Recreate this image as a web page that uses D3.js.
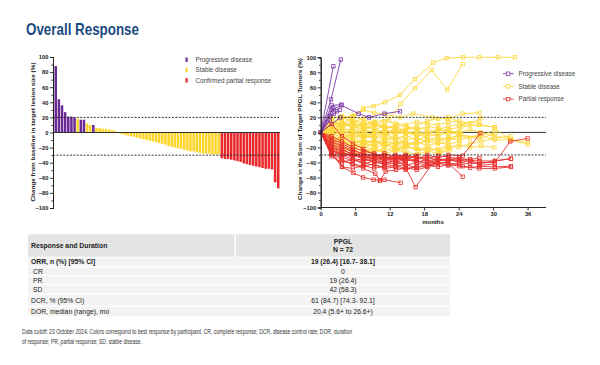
<!DOCTYPE html>
<html>
<head>
<meta charset="utf-8">
<script src="https://cdn.jsdelivr.net/npm/d3@7"></script>
<style>
  body { margin: 0; background: #fff; }
  svg { display: block; }
  text { font-family: "Liberation Sans", Arial, sans-serif; }
</style>
</head>
<body>
<svg id="chart" width="600" height="365"></svg>
<script>
// waterfall: best change per participant, sorted
const wfValues = [88, 44, 36, 27, 21, 21, 20, 18, 17, 17, 12, 10, 10, 6, 6, 5, 5, 4, 3, 2,
  -1, -2, -3, -4, -5, -6, -7, -8, -9, -10, -11, -12, -13, -14, -15, -16, -18, -19, -20, -21,
  -22, -23, -24, -25, -25, -26, -27, -28, -28, -28, -29, -29, -29,
  -34, -35, -35, -36, -37, -38, -39, -41, -42, -43, -44, -45, -46, -47, -48, -48, -49, -66, -74];
const wfGroups = ["PPPPPPPSPP", "SSPSSSSSSS", "SSSSSSSSSS", "SSSSSSSSSS", "SSSSSSSSSS",
  "SSSRRRRRRR", "RRRRRRRRRR", "RR"].join("").split("");
const wfLegend = ["Progressive disease", "Stable disease", "Confirmed partial response"];
const yTicks = [-100, -80, -60, -40, -20, 0, 20, 40, 60, 80, 100];
const monthTicks = [0, 6, 12, 18, 24, 30, 36];

// spider: [month, % change] per participant
const pdLines = [
  [[0,0],[2.2,88]],
  [[0,0],[1.8,44],[3.5,97]],
  [[0,0],[1.9,30],[3.6,36],[6.6,25],[8.4,20],[11.1,25],[13.8,28]],
  [[0,0],[1.9,36],[3.6,37]],
  [[0,0],[2.2,32],[2.8,28]],
  [[0,0],[1.6,22],[3.3,30]],
  [[0,0],[2.3,25]],
  [[0,0],[1.6,16]],
  [[0,0],[3.4,20]]
];
const sdLines = [
  [[0,0],[1.9,12],[3.7,18],[5.8,22],[7.4,32],[9.2,35],[11.2,40],[13.8,50],[16.4,71],[19.6,93],[21.9,99],[24.8,100],[27.6,100],[30.8,100],[33.8,100]],
  [[0,0],[1.9,10],[3.8,8],[5.6,15],[7.5,12],[9.4,14],[11.9,17],[13.9,38],[16.4,59],[19.3,83],[22,57],[24.7,91]],
  [[0,0],[1.8,19],[3.6,20],[5.5,22],[7.4,30],[9.3,26],[11.2,24],[13.8,20],[16.1,25],[19.5,20],[22,18],[24.7,25],[27.6,26]],
  [[0,0],[1.9,5],[3.7,10],[5.6,8],[7.4,12],[9.3,10],[11.1,15],[13,12],[14.8,10],[16.7,14],[18.5,12],[20.4,10],[22.2,14],[24.1,15],[26,12],[27.9,19]],
  [[0,0],[1.9,-5],[3.7,-8],[5.6,-2],[7.4,-5],[9.3,0],[11.1,-3],[13,2],[14.8,-2],[16.7,0],[18.5,-2],[20.4,2],[22.2,4],[24.4,7],[27.6,10],[30.3,7]],
  [[0,0],[2,-10],[3.8,-12],[5.6,-15],[7.5,-10],[9.3,-14],[11.2,-12],[13,-15],[14.8,-18],[16.7,-14],[18.6,-12],[20.5,-10],[22.3,-8],[24.2,-10],[27.6,-3],[30.3,-10],[33,-10],[36,-16]],
  [[0,0],[1.8,-15],[3.6,-20],[5.5,-22],[7.3,-18],[9.2,-24],[11,-22],[12.9,-25],[14.7,-20],[16.6,-22],[18.4,-25],[20.3,-22],[22.1,-18],[24,-20],[26,-15],[28,-12],[30.3,-8],[33,-5]],
  [[0,0],[1.9,8],[3.7,3],[5.6,5],[7.4,0],[9.3,2]],
  [[0,0],[1.9,-3],[3.7,0],[5.6,-6],[7.4,-4],[9.3,-8],[11.1,-5],[13,-9],[14.8,-6]],
  [[0,0],[1.8,15],[3.6,12],[5.5,18],[7.3,10],[9.2,12],[11,8],[12.9,5]],
  [[0,0],[2,-20],[3.8,-25],[5.7,-28],[7.5,-26],[9.4,-22],[11.3,-28],[13.1,-24],[15,-27],[16.8,-29],[18.7,-25],[20.5,-28],[22.4,-24]],
  [[0,0],[1.9,2],[3.7,-2],[5.6,3],[7.4,6],[9.3,4],[11.1,8],[13,5],[14.8,3],[16.7,6],[18.5,4],[20.4,0],[22.2,-2],[24.1,2]],
  [[0,0],[1.9,-8],[3.7,-14],[5.6,-10],[7.4,-16],[9.3,-12],[11.1,-18],[13,-14],[14.8,-10],[16.7,-8],[18.5,-12],[20.4,-15],[22.2,-12],[24.1,-5],[26,-8]],
  [[0,0],[1.9,5],[3.7,-3],[5.6,-8],[7.4,-12]],
  [[0,0],[2,12],[3.8,20],[5.6,15]],
  [[0,0],[1.7,-12],[3.5,-18],[5.4,-25],[7.2,-22],[9.1,-27],[10.9,-24],[12.8,-20],[14.6,-24]],
  [[0,0],[1.9,0],[3.7,5],[5.6,2],[7.4,-3],[9.3,-1],[11.1,3],[13,0],[14.8,5],[16.7,8],[18.5,15],[20.4,18],[22.2,20],[24.7,12],[27.6,14]],
  [[0,0],[1.9,-6],[3.7,-10],[5.6,-5],[7.4,-8],[9.3,-4],[11.1,-10],[13,-6],[14.8,-14],[16.7,-16],[18.5,-10],[20.4,-6],[22.2,-9],[24.1,-3],[27.6,-8],[30.3,-2]],
  [[0,0],[1.9,10],[3.7,14],[5.6,8],[7.4,5],[9.3,8],[11.1,10]],
  [[0,0],[1.8,-18],[3.6,-22],[5.5,-15],[7.3,-20],[9.2,-16]],
  [[0,0],[2.1,3],[3.9,8],[5.8,12],[7.6,6],[9.5,10],[11.3,6],[13.2,10],[15,7],[16.9,4],[18.7,8],[20.6,5],[22.4,2],[24.4,-2]],
  [[0,0],[1.9,-2],[3.7,-6],[5.6,-12],[7.4,-14],[9.3,-10],[11.1,-16],[13,-20],[14.8,-18],[16.7,-22],[18.5,-20],[20.4,-24],[22.2,-20],[24.1,-16],[26,-20],[27.9,-18],[30.2,-20]],
  [[0,0],[1.9,18],[3.7,22],[5.6,12],[7.4,8],[9.3,14]],
  [[0,0],[1.9,-10],[3.7,-5],[5.6,-10],[7.4,-15],[9.3,-18],[11.1,-12],[13,-16],[14.8,-12],[16.7,-18]],
  [[0,0],[1.9,6],[3.7,2],[5.6,-4],[7.4,2],[9.3,-6],[11.1,-2],[13,-8],[14.8,-4],[16.7,-10],[18.5,-6],[20.4,-12],[22.2,-8],[24.1,-4],[27.6,-6],[30.3,4],[33.2,-10],[36,-13]],
  [[0,0],[1.9,-14],[3.7,-9],[5.6,-20],[7.4,-24],[9.3,-20]],
  [[0,0],[1.9,4],[3.7,9],[5.6,14],[7.4,18],[9.3,12],[11.1,5],[13,8],[14.8,2],[16.7,-4],[18.5,0]],
  [[0,0],[1.9,-4],[3.7,2],[5.6,-2],[7.4,4],[9.3,0],[11.1,-4],[13,-1],[14.8,2],[16.7,-3],[18.5,-6],[20.4,-2],[22.2,2],[24.1,0],[26,4],[27.9,0],[30,-4],[33.1,-9]],
  [[0,0],[1.8,-22],[3.6,-27],[5.5,-20],[7.3,-25],[9.2,-28]],
  [[0,0],[1.9,14],[3.7,10],[5.6,20],[7.4,17]],
  [[0,0],[1.9,-7],[3.7,-16],[5.6,-18],[7.4,-10],[9.3,-14],[11.1,-8],[13,-12],[14.8,-16],[16.7,-12],[18.5,-18],[20.4,-14],[22.2,-16],[24.1,-12]],
  [[0,0],[1.9,-1],[3.7,-3]],
  [[0,0],[2.2,-16],[4,-12],[5.9,-18],[7.7,-14],[9.6,-20],[11.4,-16],[13.3,-22],[15.1,-18],[17,-24],[18.8,-20],[20.7,-26],[22.5,-22]],
  [[0,0],[1.9,8],[3.7,12],[5.6,6],[7.4,10],[9.3,5],[11.1,0],[13,4],[14.8,-1],[16.7,2],[18.5,-2],[20.4,4],[22.2,8],[24.1,10],[27.6,10],[30.3,7]],
  [[0,0],[1.9,-12],[3.7,-6],[5.6,-2],[7.4,-6],[9.3,-2],[11.1,2],[13,-2],[14.8,0],[16.7,-5],[18.5,-1],[20.4,-5],[22.2,0],[24.1,-3]],
  [[0,0],[1.9,16],[3.7,6],[5.6,0],[7.4,-4],[9.3,-8]]
];
const prLines = [
  [[0,0],[1.9,-25],[3.7,-46],[5.7,-54],[7.4,-60],[9.2,-63],[10.3,-64],[11.1,-63],[13.9,-67]],
  [[0,0],[1.8,-20],[3.6,-36],[5.5,-42],[7.4,-48],[9.5,-55],[10.3,-64],[11.3,-52],[13.1,-50],[14.8,-47],[16.7,-50],[18.5,-46]],
  [[0,0],[1.9,-18],[3.7,-28],[5.6,-30],[7.4,-35],[9.3,-33],[11.1,-38],[13.9,-33],[16.5,-73],[19.4,-42],[22.1,-40],[24.7,-45],[27.6,-48],[30.3,-48],[33.1,-46]],
  [[0,0],[1.9,-15],[3.7,-22],[5.6,-30],[7.4,-28],[9.3,-32],[11.1,-30],[13,-34],[14.8,-31],[16.7,-35],[18.5,-30],[20.4,-34],[22.2,-30],[24.7,-31],[27.8,-1]],
  [[0,0],[1.9,11],[3.7,-5],[5.6,-15],[7.4,-22],[9.3,-30],[11.1,-32],[13,-38],[14.8,-35],[16.7,-40],[18.5,-36],[20.4,-42]],
  [[0,0],[1.9,-28],[3.7,-33],[5.6,-38],[7.4,-35],[9.3,-40],[11.1,-42],[13,-38],[14.8,-44],[16.7,-40],[18.5,-45],[20.4,-41],[22.2,-44],[24.1,-40],[26,-42],[27.6,-40],[30.3,-40],[33,-12],[36,-8]],
  [[0,0],[1.9,-30],[3.7,-26],[5.6,-32],[7.4,-30],[9.3,-36],[11.1,-34],[13,-40],[14.8,-36],[16.7,-38],[18.5,-40],[20.4,-36],[22.2,-38],[24.1,-36],[27.6,-38],[30.3,-38],[33.1,-35]],
  [[0,0],[1.9,-12],[3.7,-20],[5.6,-26],[7.4,-32],[9.3,-30],[11.1,-35],[13,-32],[14.8,-38]],
  [[0,0],[1.9,-22],[3.7,-30],[5.6,-36],[7.4,-40],[9.3,-44],[11.1,-46],[13,-44],[14.8,-48],[16.7,-46],[18.5,-44],[20.4,-40],[22.1,-40],[24.7,-59]],
  [[0,0],[1.9,-10],[3.7,-18],[5.6,-24],[7.4,-28],[9.3,-31],[11.1,-28],[13,-32],[14.8,-30],[16.7,-33],[18.5,-35],[20.4,-31],[22.2,-33],[24.1,-35],[26,-36],[27.6,-34]],
  [[0,0],[1.9,-26],[3.7,-38],[5.6,-42],[7.4,-45],[9.3,-42],[11.1,-48],[13,-46],[14.8,-50],[16.7,-45]],
  [[0,0],[1.9,-5],[3.7,-12],[5.6,-20],[7.4,-25],[9.3,-28],[11.1,-34],[13,-36],[14.8,-33],[16.7,-38],[18.5,-42],[20.4,-38],[22.2,-36],[24.1,-40],[26,-38],[27.6,-42],[30.3,-38],[33.1,-35]],
  [[0,0],[1.9,-32],[3.7,-40],[5.6,-36],[7.4,-42],[9.3,-38],[11.1,-40],[13,-42],[14.8,-40]],
  [[0,0],[1.9,-20],[3.7,-24],[5.6,-28],[7.4,-33],[9.3,-35],[11.1,-32],[13,-36],[14.8,-34],[16.7,-32],[18.5,-38],[20.4,-35],[22.2,-37],[24.1,-33]],
  [[0,0],[1.9,-15],[3.7,-26],[5.6,-34],[7.4,-38],[9.3,-35],[11.1,-40],[13,-38]],
  [[0,0],[1.9,-8],[3.7,-15],[5.6,-22],[7.4,-31],[9.3,-34],[11.1,-36],[13,-34],[14.8,-38],[16.7,-36],[18.5,-33],[20.4,-37],[22.2,-35],[24.1,-38],[26,-36],[27.6,-44],[30.3,-42]],
  [[0,0],[1.9,-28],[3.7,-46],[5.6,-48],[7.4,-44],[9.3,-48],[11.1,-45]],
  [[0,0],[1.9,-18],[3.7,-32],[5.6,-28],[7.4,-36],[9.3,-38],[11.1,-42],[13,-45],[14.8,-43],[16.7,-47],[18.5,-44],[20.4,-46],[22.2,-43],[24.1,-45],[26,-47],[27.6,-45],[30.3,-46],[33.1,-45]],
  [[0,0],[1.9,-24],[3.7,-30],[5.6,-28],[7.4,-34],[9.3,-30],[11.1,-36],[13,-30],[14.8,-35],[16.7,-31]]
];
const spiderLegend = ["Progressive disease", "Stable disease", "Partial response"];

// table
const tableHeader = ["Response and Duration", "PPGL", "N = 72"];
const tableLabels = ["ORR, n (%) [95% CI]", "CR", "PR", "SD", "DCR, % (95% CI)", "DOR, median (range), mo"];
const tableValues = ["19 (26.4) [16.7- 38.1]", "0", "19 (26.4)", "42 (58.3)", "61 (84.7) [74.3- 92.1]", "20.4 (5.6+ to 26.6+)"];
const footnote = [
  "Data cutoff: 23 October 2024. Colors correspond to best response by participant. CR, complete response; DCR, disease control rate; DOR, duration",
  "of response; PR, partial response; SD, stable disease."
];

const colBar = { P: "#6b2a94", S: "#fdd52a", R: "#e8282b" };
const colLine = { P: "#7d3aa6", S: "#fdd83c", R: "#e8312f" };

const svg = d3.select("#chart");
svg.append("rect").attr("width", 600).attr("height", 365).attr("fill", "#fff");

// title
svg.append("text")
  .attr("x", 26).attr("y", 35)
  .attr("font-size", 16.5).attr("font-weight", "bold")
  .attr("fill", "#1d4b80")
  .attr("textLength", 113).attr("lengthAdjust", "spacingAndGlyphs")
  .text("Overall Response");

function styleAxis(g) {
  g.selectAll(".domain").attr("stroke", "#222").attr("stroke-width", 1);
  g.selectAll(".tick line").attr("stroke", "#222").attr("stroke-width", 0.9);
  g.selectAll(".tick text")
    .attr("font-size", 5.8).attr("font-weight", "bold").attr("fill", "#222")
    .attr("font-family", "'Liberation Sans', Arial, sans-serif");
}

// ---------------- waterfall ----------------
const yW = d3.scaleLinear().domain([-100, 100]).range([208, 57]);
const xW = d3.scaleBand().domain(d3.range(wfValues.length)).range([54.5, 279.5]).paddingInner(0.2);

const gW = svg.append("g");
gW.selectAll("rect.bar")
  .data(wfValues)
  .join("rect")
  .attr("class", "bar")
  .attr("x", (d, i) => xW(i))
  .attr("width", xW.bandwidth())
  .attr("y", d => yW(Math.max(0, d)))
  .attr("height", d => Math.abs(yW(d) - yW(0)))
  .attr("fill", (d, i) => colBar[wfGroups[i]]);

gW.append("line")
  .attr("x1", 53).attr("x2", 280).attr("y1", yW(0)).attr("y2", yW(0))
  .attr("stroke", "#333").attr("stroke-width", 1);
[20, -30].forEach(v => {
  gW.append("line")
    .attr("x1", 53).attr("x2", 279).attr("y1", yW(v)).attr("y2", yW(v))
    .attr("stroke", "#222").attr("stroke-width", 0.9).attr("stroke-dasharray", "2,1.4");
});

const axW = gW.append("g").attr("transform", "translate(53,0)")
  .call(d3.axisLeft(yW).tickValues(yTicks).tickSize(3).tickPadding(1.5));
styleAxis(axW);
const axWm = gW.append("g").attr("transform", "translate(53,0)")
  .call(d3.axisLeft(yW).tickValues(d3.range(-90, 100, 20)).tickSize(1.6).tickFormat(""));
styleAxis(axWm);

gW.append("text")
  .attr("transform", "translate(35,132) rotate(-90)")
  .attr("text-anchor", "middle")
  .attr("font-size", 6).attr("font-weight", "bold").attr("fill", "#222")
  .attr("textLength", 139).attr("lengthAdjust", "spacingAndGlyphs")
  .text("Change from baseline in target lesion size (%)");

const legW = gW.append("g");
wfLegend.forEach((t, i) => {
  const y = 59.7 + i * 10.3;
  legW.append("rect").attr("x", 185.5).attr("y", y - 2.2).attr("width", 2.2).attr("height", 4.4)
    .attr("fill", colBar["PSR"[i]]);
  legW.append("text").attr("x", 195.5).attr("y", y + 2.2)
    .attr("font-size", 6.3).attr("fill", "#444").text(t);
});

// ---------------- spider ----------------
const xS = d3.scaleLinear().domain([0, 39.2]).range([320.7, 546]);
const yS = d3.scaleLinear().domain([-100, 100]).range([207.5, 57.3]);
const gS = svg.append("g");

gS.append("line")
  .attr("x1", 320.7).attr("x2", 546).attr("y1", yS(0)).attr("y2", yS(0))
  .attr("stroke", "#333").attr("stroke-width", 1);

const line = d3.line().x(d => xS(d[0])).y(d => yS(d[1]));
function drawSeries(lines, c) {
  const g = gS.append("g");
  lines.forEach(pts => {
    g.append("path").attr("d", line(pts))
      .attr("fill", "none").attr("stroke", c).attr("stroke-width", 0.9);
    g.selectAll(null).data(pts.slice(1)).join("rect")
      .attr("x", d => xS(d[0]) - 1.7).attr("y", d => yS(d[1]) - 1.7)
      .attr("width", 3.4).attr("height", 3.4)
      .attr("fill", "none").attr("stroke", c).attr("stroke-width", 0.8);
  });
  // baseline marker
  g.append("rect").attr("x", xS(0) - 1.7).attr("y", yS(0) - 1.7)
    .attr("width", 3.4).attr("height", 3.4).attr("fill", "none")
    .attr("stroke", c).attr("stroke-width", 0.8);
}
drawSeries(sdLines, colLine.S);
drawSeries(prLines, colLine.R);
drawSeries(pdLines, colLine.P);

[20, -30].forEach(v => {
  gS.append("line")
    .attr("x1", 320.7).attr("x2", 546).attr("y1", yS(v)).attr("y2", yS(v))
    .attr("stroke", "#222").attr("stroke-width", 0.9).attr("stroke-dasharray", "2,1.4");
});

const axSy = gS.append("g").attr("transform", "translate(320.7,0)")
  .call(d3.axisLeft(yS).tickValues(yTicks).tickSize(3).tickPadding(1.5));
styleAxis(axSy);
const axSym = gS.append("g").attr("transform", "translate(320.7,0)")
  .call(d3.axisLeft(yS).tickValues(d3.range(-90, 100, 20)).tickSize(1.6).tickFormat(""));
styleAxis(axSym);
const axSx = gS.append("g").attr("transform", "translate(0,207.5)")
  .call(d3.axisBottom(xS).tickValues(monthTicks).tickSize(3).tickPadding(1.5));
styleAxis(axSx);
axSx.select(".domain").attr("d", "M320.7,0H546");

gS.append("text").attr("x", 433).attr("y", 224)
  .attr("text-anchor", "middle").attr("font-size", 6).attr("font-weight", "bold").attr("fill", "#222")
  .text("months");
gS.append("text")
  .attr("transform", "translate(302,129) rotate(-90)")
  .attr("text-anchor", "middle")
  .attr("font-size", 6).attr("font-weight", "bold").attr("fill", "#222")
  .attr("textLength", 142).attr("lengthAdjust", "spacingAndGlyphs")
  .text("Change in the Sum of Target PPGL Tumors (%)");

const legS = gS.append("g");
spiderLegend.forEach((t, i) => {
  const y = 73.7 + i * 12.7;
  const c = colLine["PSR"[i]];
  legS.append("line").attr("x1", 503).attr("x2", 513.5).attr("y1", y).attr("y2", y)
    .attr("stroke", c).attr("stroke-width", 0.9);
  legS.append("rect").attr("x", 508.2 - 1.7).attr("y", y - 1.7).attr("width", 3.4).attr("height", 3.4)
    .attr("fill", "#fff").attr("stroke", c).attr("stroke-width", 0.8);
  legS.append("text").attr("x", 518.5).attr("y", y + 2.2)
    .attr("font-size", 6.3).attr("fill", "#444").text(t);
});

// ---------------- table ----------------
const gT = svg.append("g");
const colL = [28, 234.5], colR = [236, 450];
gT.append("rect").attr("x", colL[0]).attr("y", 234.3).attr("width", colL[1] - colL[0]).attr("height", 22.4).attr("fill", "#e4e4e4");
gT.append("rect").attr("x", colR[0]).attr("y", 234.3).attr("width", colR[1] - colR[0]).attr("height", 22.4).attr("fill", "#e4e4e4");
gT.append("text").attr("x", 31).attr("y", 248).attr("font-size", 6.8).attr("font-weight", "bold").attr("fill", "#222")
  .text(tableHeader[0]);
gT.append("text").attr("x", 343).attr("y", 244).attr("text-anchor", "middle").attr("font-size", 6.8).attr("font-weight", "bold").attr("fill", "#222")
  .text(tableHeader[1]);
gT.append("text").attr("x", 343).attr("y", 251.5).attr("text-anchor", "middle").attr("font-size", 6.8).attr("font-weight", "bold").attr("fill", "#222")
  .text(tableHeader[2]);

const rowTop = [257.5, 267.2, 276.2, 285.2, 294.8, 306.8];
const rowH = [9.2, 8.5, 8.5, 9.1, 11.5, 9.8];
tableLabels.forEach((lab, i) => {
  gT.append("rect").attr("x", colL[0]).attr("y", rowTop[i]).attr("width", colR[1] - colL[0]).attr("height", rowH[i] - 0.7)
    .attr("fill", "#f3f3f3");
  const cy = rowTop[i] + rowH[i] / 2 + 2.2;
  gT.append("text").attr("x", (i >= 1 && i <= 3) ? 33 : 31).attr("y", cy)
    .attr("font-size", 6.8).attr("font-weight", i === 0 ? "bold" : "normal").attr("fill", "#222")
    .text(lab);
  gT.append("text").attr("x", 343).attr("y", cy).attr("text-anchor", "middle")
    .attr("font-size", 6.8).attr("font-weight", i === 0 ? "bold" : "normal").attr("fill", "#222")
    .text(tableValues[i]);
});

// footnote (narrow face: squeeze to the measured widths)
svg.append("text").attr("x", 22).attr("y", 333.5)
  .attr("font-size", 7).attr("fill", "#333")
  .attr("textLength", 330).attr("lengthAdjust", "spacingAndGlyphs").text(footnote[0]);
svg.append("text").attr("x", 22).attr("y", 343.5)
  .attr("font-size", 7).attr("fill", "#333")
  .attr("textLength", 120).attr("lengthAdjust", "spacingAndGlyphs").text(footnote[1]);
</script>
</body>
</html>
